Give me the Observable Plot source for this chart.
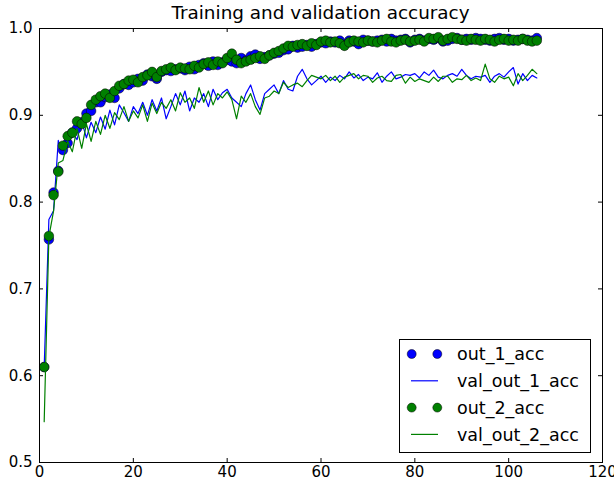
<!DOCTYPE html>
<html>
<head>
<meta charset="utf-8">
<script src="https://cdn.jsdelivr.net/npm/d3@7"></script>
<script src="https://cdn.jsdelivr.net/npm/@observablehq/plot@0.6"></script>
<style>
  html, body { margin: 0; padding: 0; background: white; }
  #title { height: 18px; box-sizing: border-box; padding-top: 3px; padding-left: 39px; width: 602px;
           text-align: center; font: 18.4px "DejaVu Sans"; line-height: 20px; color: #000; overflow: visible; white-space: nowrap; }
  #chart svg { display: block; }
</style>
</head>
<body>
<div id="title">Training and validation accuracy</div>
<div id="chart"></div>
<script>
const title = "Training and validation accuracy";
const seriesNames = ["out_1_acc", "val_out_1_acc", "out_2_acc", "val_out_2_acc"];
const xTicks = [0, 20, 40, 60, 80, 100, 120];
const yTicks = [0.5, 0.6, 0.7, 0.8, 0.9, 1.0];

const out1 = [
  0.610, 0.757, 0.811, 0.836, 0.860, 0.868, 0.880, 0.885, 0.892, 0.902,
  0.905, 0.915, 0.915, 0.921, 0.924, 0.920, 0.931, 0.936, 0.935, 0.938,
  0.942, 0.940, 0.947, 0.945, 0.942, 0.950, 0.952, 0.951, 0.953, 0.954,
  0.952, 0.956, 0.953, 0.958, 0.960, 0.957, 0.962, 0.958, 0.961, 0.964,
  0.962, 0.960, 0.966, 0.963, 0.968, 0.970, 0.965, 0.967, 0.969, 0.971,
  0.972, 0.975, 0.976, 0.980, 0.978, 0.979, 0.981, 0.979, 0.982, 0.984,
  0.983, 0.985, 0.984, 0.986, 0.981, 0.986, 0.985, 0.982, 0.987, 0.986,
  0.985, 0.986, 0.987, 0.985, 0.988, 0.986, 0.987, 0.988, 0.984, 0.987,
  0.988, 0.986, 0.988, 0.987, 0.989, 0.985, 0.986, 0.988, 0.989, 0.987,
  0.988, 0.987, 0.989, 0.988, 0.987, 0.986, 0.988, 0.989, 0.987, 0.988,
  0.986, 0.987, 0.988, 0.987, 0.986, 0.989
];
const valOut1 = [
  0.610, 0.780, 0.790, 0.871, 0.855, 0.866, 0.880, 0.872, 0.893, 0.874,
  0.892, 0.880, 0.898, 0.884, 0.906, 0.889, 0.912, 0.903, 0.893, 0.910,
  0.902, 0.915, 0.900, 0.918, 0.905, 0.920, 0.896, 0.910, 0.925, 0.912,
  0.928, 0.905, 0.920, 0.915, 0.925, 0.910, 0.930, 0.918, 0.926, 0.930,
  0.920, 0.915, 0.910, 0.925, 0.935, 0.918, 0.906, 0.925, 0.930, 0.935,
  0.925, 0.940, 0.930, 0.928, 0.945, 0.953, 0.942, 0.935, 0.940, 0.945,
  0.938, 0.944, 0.940, 0.946, 0.942, 0.950, 0.943, 0.947, 0.940, 0.944,
  0.942, 0.949, 0.938, 0.945, 0.950, 0.942, 0.944, 0.947, 0.946, 0.948,
  0.943, 0.950, 0.946, 0.952, 0.944, 0.942, 0.946, 0.948, 0.945, 0.953,
  0.946, 0.942, 0.945, 0.944, 0.946, 0.938, 0.945, 0.948, 0.944, 0.950,
  0.955, 0.936, 0.948, 0.940, 0.946, 0.943
];
const out2 = [
  0.610, 0.761, 0.808, 0.835, 0.865, 0.876, 0.880, 0.893, 0.890, 0.897,
  0.912, 0.918, 0.922, 0.925, 0.920, 0.928, 0.934, 0.936, 0.940, 0.941,
  0.938, 0.944, 0.946, 0.950, 0.944, 0.951, 0.953, 0.955, 0.952, 0.955,
  0.954, 0.953, 0.957, 0.955, 0.959, 0.961, 0.958, 0.962, 0.960, 0.966,
  0.971, 0.964, 0.960, 0.962, 0.964, 0.966, 0.968, 0.965, 0.969, 0.972,
  0.974, 0.977, 0.980, 0.979, 0.981, 0.982, 0.980, 0.983, 0.981, 0.985,
  0.986, 0.984, 0.985, 0.983, 0.980, 0.984, 0.986, 0.985, 0.984, 0.986,
  0.985, 0.984, 0.986, 0.988, 0.985, 0.984, 0.986, 0.987, 0.985, 0.986,
  0.987, 0.985, 0.989, 0.988, 0.990, 0.986, 0.988, 0.990, 0.988, 0.987,
  0.986, 0.988, 0.987, 0.986, 0.988, 0.987, 0.985, 0.987, 0.988, 0.986,
  0.987, 0.986, 0.988, 0.986, 0.985, 0.986
];
const valOut2 = [
  0.547, 0.760, 0.790, 0.845, 0.848, 0.870, 0.858, 0.885, 0.862, 0.890,
  0.870, 0.893, 0.878, 0.900, 0.885, 0.903, 0.895, 0.910, 0.893, 0.905,
  0.897, 0.912, 0.893, 0.914, 0.902, 0.915, 0.908, 0.918, 0.905, 0.926,
  0.915, 0.920, 0.908, 0.932, 0.915, 0.928, 0.912, 0.925, 0.920, 0.927,
  0.918, 0.896, 0.922, 0.915, 0.925, 0.910, 0.901, 0.920, 0.922, 0.928,
  0.925, 0.938, 0.932, 0.935, 0.937, 0.933, 0.940, 0.946, 0.944, 0.942,
  0.946, 0.940, 0.945, 0.938, 0.944, 0.946, 0.948, 0.942, 0.946, 0.945,
  0.938, 0.943, 0.945, 0.940, 0.939, 0.946, 0.947, 0.937, 0.944, 0.939,
  0.942, 0.940, 0.938, 0.944, 0.939, 0.945, 0.945, 0.938, 0.942, 0.941,
  0.946, 0.940, 0.943, 0.940, 0.959, 0.942, 0.938, 0.945, 0.942, 0.944,
  0.934, 0.948, 0.940, 0.946, 0.953, 0.948
];

const BLUE = "#0000ff", GREEN = "#008000";
const toRows = arr => arr.map((v, i) => ({epoch: i + 1, v}));

const chart = Plot.plot({
  width: 614,
  height: 466,
  marginTop: 10,
  marginBottom: 22,
  marginLeft: 39,
  marginRight: 12,
  style: {fontFamily: "DejaVu Sans", fontSize: "15px", background: "transparent", color: "black", overflow: "visible"},
  x: {domain: [0, 120], ticks: xTicks, tickSize: 0, tickPadding: 4, tickFormat: d3.format("d"), label: null},
  y: {domain: [0.5, 1.0], ticks: yTicks, tickSize: 0, tickPadding: 7, tickFormat: d3.format(".1f"), label: null},
  marks: [
    Plot.dot(toRows(out1), {x: "epoch", y: "v", r: 4.8, fill: BLUE, stroke: "#000", strokeWidth: 0.5}),
    Plot.line(toRows(valOut1), {x: "epoch", y: "v", stroke: BLUE, strokeWidth: 1.2}),
    Plot.dot(toRows(out2), {x: "epoch", y: "v", r: 4.8, fill: GREEN, stroke: "#000", strokeWidth: 0.5}),
    Plot.line(toRows(valOut2), {x: "epoch", y: "v", stroke: GREEN, strokeWidth: 1.2}),
    Plot.ruleX(xTicks, {x: d => d, insetTop: 430, stroke: "black"}),
    Plot.ruleX(xTicks, {x: d => d, insetBottom: 430, stroke: "black"}),
    Plot.ruleY(yTicks, {y: d => d, insetRight: 559, stroke: "black"}),
    Plot.ruleY(yTicks, {y: d => d, insetLeft: 559, stroke: "black"}),
    Plot.frame({stroke: "black", strokeWidth: 1})
  ]
});
document.getElementById("chart").appendChild(chart);

// legend (inside the axes, lower right); page y = svg y + 18
const svg = d3.select(chart);
const lg = svg.append("g").attr("font-family", "DejaVu Sans").attr("font-size", "17.5px")
  .attr("text-anchor", "start");
lg.append("rect").attr("x", 399.5).attr("y", 321.5).attr("width", 191).attr("height", 113)
  .attr("fill", "white").attr("stroke", "black").attr("stroke-width", 1);
const entries = [
  {name: seriesNames[0], kind: "dot", color: BLUE},
  {name: seriesNames[1], kind: "line", color: BLUE},
  {name: seriesNames[2], kind: "dot", color: GREEN},
  {name: seriesNames[3], kind: "line", color: GREEN}
];
entries.forEach((e, i) => {
  const cy = 336 + i * 26.8;
  if (e.kind === "dot") {
    [411.7, 437.3].forEach(cx => lg.append("circle").attr("cx", cx).attr("cy", cy).attr("r", 4.5)
      .attr("fill", e.color).attr("stroke", "#000").attr("stroke-width", 0.5));
  } else {
    lg.append("line").attr("x1", 411).attr("x2", 438).attr("y1", cy).attr("y2", cy)
      .attr("stroke", e.color).attr("stroke-width", 1.2);
  }
  lg.append("text").attr("x", 457).attr("y", cy).attr("dy", "0.35em").attr("fill", "black")
    .attr("text-anchor", "start").text(e.name);
});
</script>
</body>
</html>
